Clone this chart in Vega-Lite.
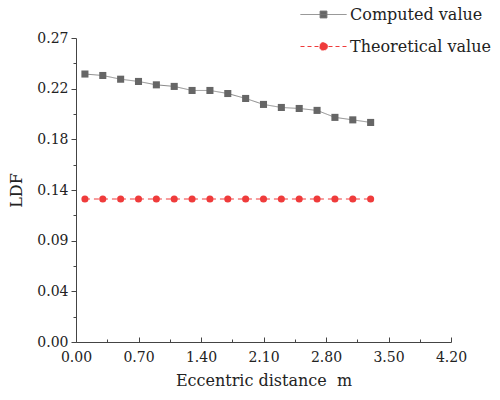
{
  "$schema": "https://vega.github.io/schema/vega-lite/v6.json",
  "width": 375,
  "height": 304,
  "autosize": "none",
  "padding": {"left": 76, "top": 38, "right": 49, "bottom": 58},
  "background": "white",
  "config": {
    "view": {"stroke": null},
    "font": "DejaVu Serif",
    "axis": {
      "grid": false,
      "domainColor": "#444",
      "tickColor": "#444",
      "labelColor": "#222",
      "titleColor": "#222",
      "labelFont": "DejaVu Serif",
      "titleFont": "DejaVu Serif",
      "labelFontSize": 14,
      "titleFontSize": 16,
      "titleFontWeight": "normal",
      "labelFlush": false,
      "labelOverlap": false
    }
  },
  "data": {
    "values": [
      {"x": 0.1, "y": 0.238, "series": "Computed value"},
      {"x": 0.3, "y": 0.2367, "series": "Computed value"},
      {"x": 0.5, "y": 0.2334, "series": "Computed value"},
      {"x": 0.7, "y": 0.2314, "series": "Computed value"},
      {"x": 0.9, "y": 0.2284, "series": "Computed value"},
      {"x": 1.1, "y": 0.227, "series": "Computed value"},
      {"x": 1.3, "y": 0.2234, "series": "Computed value"},
      {"x": 1.5, "y": 0.2234, "series": "Computed value"},
      {"x": 1.7, "y": 0.2207, "series": "Computed value"},
      {"x": 1.9, "y": 0.2163, "series": "Computed value"},
      {"x": 2.1, "y": 0.211, "series": "Computed value"},
      {"x": 2.3, "y": 0.2083, "series": "Computed value"},
      {"x": 2.5, "y": 0.2074, "series": "Computed value"},
      {"x": 2.7, "y": 0.2057, "series": "Computed value"},
      {"x": 2.9, "y": 0.1995, "series": "Computed value"},
      {"x": 3.1, "y": 0.1973, "series": "Computed value"},
      {"x": 3.3, "y": 0.195, "series": "Computed value"},
      {"x": 0.1, "y": 0.127, "series": "Theoretical value"},
      {"x": 0.3, "y": 0.127, "series": "Theoretical value"},
      {"x": 0.5, "y": 0.127, "series": "Theoretical value"},
      {"x": 0.7, "y": 0.127, "series": "Theoretical value"},
      {"x": 0.9, "y": 0.127, "series": "Theoretical value"},
      {"x": 1.1, "y": 0.127, "series": "Theoretical value"},
      {"x": 1.3, "y": 0.127, "series": "Theoretical value"},
      {"x": 1.5, "y": 0.127, "series": "Theoretical value"},
      {"x": 1.7, "y": 0.127, "series": "Theoretical value"},
      {"x": 1.9, "y": 0.127, "series": "Theoretical value"},
      {"x": 2.1, "y": 0.127, "series": "Theoretical value"},
      {"x": 2.3, "y": 0.127, "series": "Theoretical value"},
      {"x": 2.5, "y": 0.127, "series": "Theoretical value"},
      {"x": 2.7, "y": 0.127, "series": "Theoretical value"},
      {"x": 2.9, "y": 0.127, "series": "Theoretical value"},
      {"x": 3.1, "y": 0.127, "series": "Theoretical value"},
      {"x": 3.3, "y": 0.127, "series": "Theoretical value"}
    ]
  },
  "encoding": {
    "x": {
      "field": "x",
      "type": "quantitative",
      "scale": {"domain": [0, 4.2], "nice": false, "zero": false},
      "axis": {
        "title": "Eccentric distance\u00a0 m",
        "values": [0, 0.35, 0.7, 1.05, 1.4, 1.75, 2.1, 2.45, 2.8, 3.15, 3.5, 3.85, 4.2],
        "labelExpr": "abs(datum.value/0.7 - round(datum.value/0.7)) < 0.01 ? format(datum.value, '.2f') : ''",
        "tickSize": {"condition": {"test": "abs(datum.value/0.7 - round(datum.value/0.7)) < 0.01", "value": -5}, "value": -3},
        "labelPadding": 13,
        "titlePadding": 6
      }
    },
    "y": {
      "field": "y",
      "type": "quantitative",
      "scale": {"domain": [0, 0.27], "nice": false},
      "axis": {
        "title": "LDF",
        "values": [0, 0.0225, 0.045, 0.0675, 0.09, 0.1125, 0.135, 0.1575, 0.18, 0.2025, 0.22499999999999998, 0.2475, 0.27],
        "labelExpr": "abs(datum.value/0.045 - round(datum.value/0.045)) < 0.01 ? format(datum.value, '.2f') : ''",
        "tickSize": {"condition": {"test": "abs(datum.value/0.045 - round(datum.value/0.045)) < 0.01", "value": 5}, "value": 3},
        "labelPadding": 3,
        "titlePadding": 12
      }
    }
  },
  "layer": [
    {
      "mark": {"type": "line", "strokeWidth": 1},
      "encoding": {
        "stroke": {
          "field": "series",
          "type": "nominal",
          "scale": {"range": ["#8a8a8a", "#ef3b3b"]},
          "legend": null
        },
        "strokeDash": {
          "field": "series",
          "type": "nominal",
          "scale": {"range": [[1, 0], [5, 4]]},
          "legend": null
        }
      }
    },
    {
      "mark": {"type": "point", "filled": true, "opacity": 1, "size": 50},
      "encoding": {
        "shape": {
          "field": "series",
          "type": "nominal",
          "scale": {"range": ["square", "circle"]},
          "legend": null
        },
        "color": {
          "field": "series",
          "type": "nominal",
          "scale": {"domain": ["Computed value", "Theoretical value"], "range": ["#666666", "#ef3b3b"]},
          "legend": {
            "orient": "none",
            "legendX": 224,
            "legendY": -47,
            "title": null,
            "labelFont": "DejaVu Serif",
            "labelFontSize": 16,
            "labelColor": "#222",
            "symbolSize": 2116,
            "symbolStrokeWidth": 1,
            "labelOffset": 3,
            "rowPadding": -20,
            "symbolType": {"expr": "datum.value == 'Computed value' ? 'M-1,0H1M-0.15,-0.15H0.15V0.15H-0.15Z' : 'M-1,0H1M0.17,0A0.17,0.17 0 1,1 -0.17,0A0.17,0.17 0 1,1 0.17,0Z'"},
            "symbolStrokeColor": {"expr": "datum.value == 'Computed value' ? '#777777' : '#ef3b3b'"},
            "symbolDash": {"expr": "datum.value == 'Computed value' ? [1, 0] : [4, 3]"}
          }
        }
      }
    }
  ]
}
